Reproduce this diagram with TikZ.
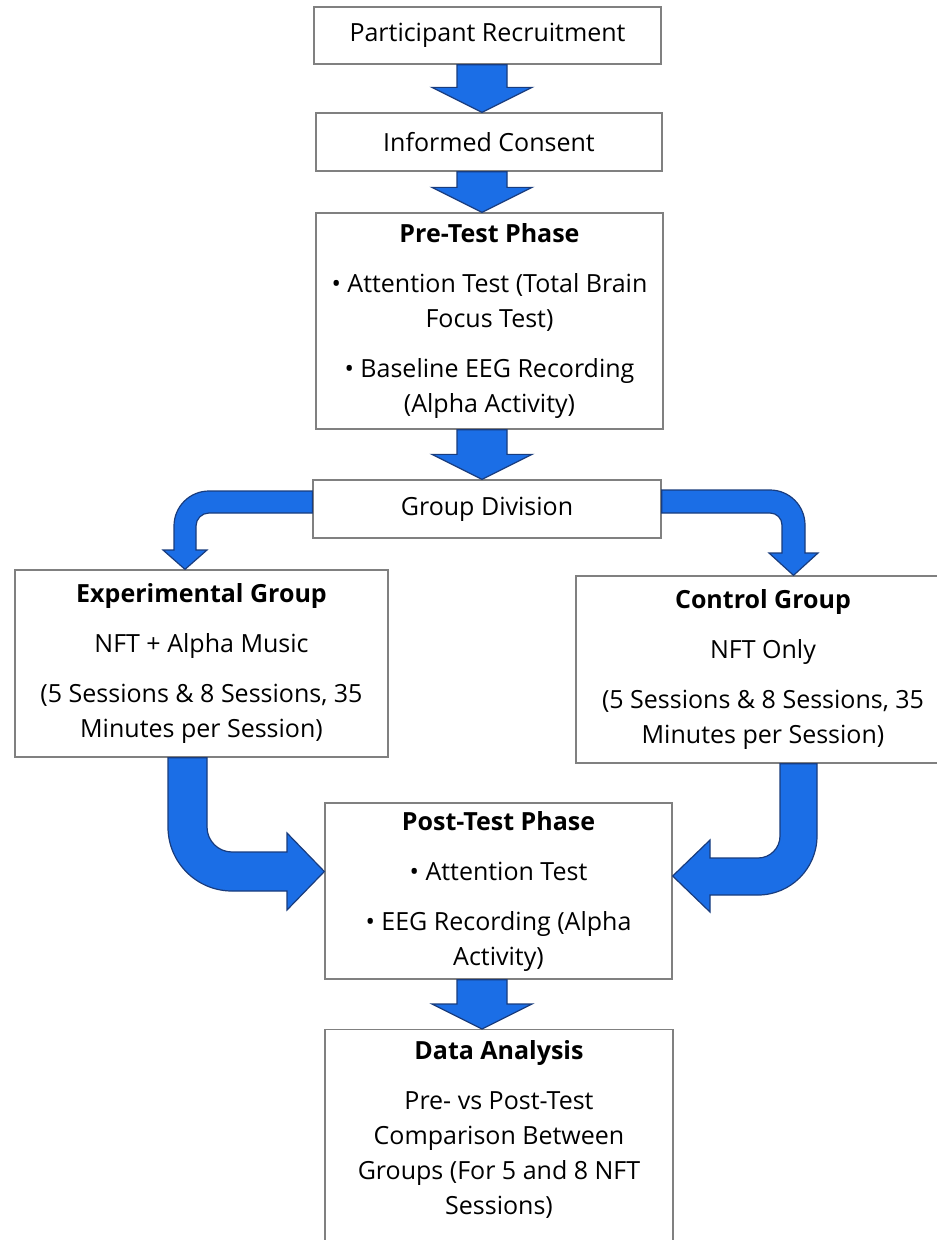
\documentclass[tikz,border=0pt]{standalone}
\usepackage{fontspec}
\setmainfont{Open Sans}
\usetikzlibrary{calc}
\definecolor{boxgray}{RGB}{128,128,128}
\definecolor{arrowblue}{RGB}{27,110,230}
\definecolor{arrowedge}{RGB}{25,60,125}
\tikzset{
  box/.style={draw=boxgray, line width=1.3pt, fill=white, align=center, inner sep=0pt, font=\fontsize{25}{35}\selectfont},
  blockarrow/.style={fill=arrowblue, draw=arrowedge, line width=1.2pt, line join=miter},
}
% straight block arrow at x = #1 from node #2 down to node #3
\newcommand{\blockdown}[3]{%
  \path (#1,0) coordinate (ax);
  \filldraw[blockarrow] ($(ax |- #2.south)+(-25,0)$) -- ($(ax |- #3.north)+(-25,-25)$) -- ++(-25,0) -- (ax |- #3.north) -- ++(50,-25) -- ++(-25,0) -- ($(ax |- #2.south)+(25,0)$) -- cycle;
}

\begin{document}
\begin{tikzpicture}[x=1pt,y=-1pt]
\useasboundingbox (0,0) rectangle (937,1240);
\clip (0,0) rectangle (937,1240);

\node[box, minimum width=347pt, minimum height=57pt](recruit) at (487.5,35.5){Participant Recruitment};
\node[box, minimum width=346pt, minimum height=58pt](consent) at (489,142){Informed Consent};
\node[box, minimum width=347pt, minimum height=216pt](pre) at (489.5,321){\textbf{Pre-Test Phase}\\[15pt] • Attention Test (Total Brain\\Focus Test)\\[15pt] • Baseline EEG Recording\\(Alpha Activity)};
\node[box, minimum width=348pt, minimum height=58pt](division) at (487,509){Group Division};
\node[box, minimum width=373pt, minimum height=187pt](exp) at (201.5,663.5){\textbf{Experimental Group}\\[15pt] NFT + Alpha Music\\[15pt] (5 Sessions \& 8 Sessions, 35\\Minutes per Session)};
\node[box, minimum width=374pt, minimum height=187pt](control) at (763,669.5){\textbf{Control Group}\\[15pt] NFT Only\\[15pt] (5 Sessions \& 8 Sessions, 35\\Minutes per Session)};
\node[box, minimum width=347pt, minimum height=176pt](post) at (498.5,891){\textbf{Post-Test Phase}\\[15pt] • Attention Test\\[15pt] • EEG Recording (Alpha\\Activity)};
\node[box, minimum width=348pt, minimum height=222pt, text depth=26pt, anchor=north](data) at (499,1029){\textbf{Data Analysis}\\[15pt] Pre- vs Post-Test\\Comparison Between\\Groups (For 5 and 8 NFT\\Sessions)};

\blockdown{482}{recruit}{consent}
\blockdown{482}{consent}{pre}
\blockdown{482}{pre}{division}
\blockdown{482}{post}{data}

% bent arrows
\filldraw[blockarrow] (division.west |- 0,491) -- (209,491) arc[start angle=270,end angle=180,radius=35] -- (174,550) -- (163,550) -- (exp.north -| 185,0) -- (207,550) -- (196,550) -- (196,526) arc[start angle=180,end angle=270,radius=13] -- (division.west |- 0,513) -- cycle;
\filldraw[blockarrow] (division.east |- 0,490) -- (770,490) arc[start angle=270,end angle=360,radius=35] -- (805,553) -- (818,553) -- (control.north -| 793.5,0) -- (769,553) -- (782,553) -- (782,525) arc[start angle=0,end angle=-90,radius=12] -- (division.east |- 0,513) -- cycle;
\filldraw[blockarrow] (168,0 |- exp.south) -- (168,827) arc[start angle=180,end angle=90,radius=64] -- (287,891) -- (287,910) -- (post.west |- 0,871.5) -- (287,833) -- (287,852) -- (232,852) arc[start angle=90,end angle=180,radius=25] -- (207,0 |- exp.south) -- cycle;
\filldraw[blockarrow] (817,0 |- control.south) -- (817,836) arc[start angle=0,end angle=90,radius=59] -- (710,895) -- (710,912) -- (post.east |- 0,876) -- (710,840) -- (710,858) -- (758,858) arc[start angle=90,end angle=0,radius=22] -- (780,0 |- control.south) -- cycle;
\end{tikzpicture}
\end{document}
